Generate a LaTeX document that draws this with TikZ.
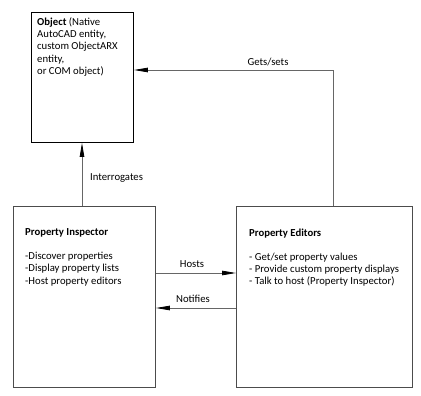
\documentclass[tikz,border=0pt]{standalone}
\usepackage{fontspec}
\setmainfont{Carlito}
\usetikzlibrary{arrows.meta}
\begin{document}
\begin{tikzpicture}[x=1pt,y=-1pt,
  box/.style={draw=black!70, line width=0.9pt, anchor=north west, inner sep=0pt},
  txt/.style={anchor=north west, inner sep=0pt, align=left, font=\fontsize{10.7}{12.4}\selectfont},
  lbl/.style={inner sep=0pt, font=\fontsize{10.7}{12}\selectfont},
  arr/.style={draw=black!60, line width=0.8pt, -{Triangle[length=14pt,width=4.5pt,color=black]}},
  ]
\useasboundingbox (0,0) rectangle (421,396);
\node[box, draw=black, minimum width=102pt, minimum height=130pt] (obj) at (31,12) {};
\node[box, minimum width=142pt, minimum height=181pt] (pi) at (13,206) {};
\node[box, minimum width=176pt, minimum height=181pt] (pe) at (236,206) {};

\node[txt] (objt) at (37,17) {\textbf{Object} (Native\\AutoCAD entity,\\custom ObjectARX\\entity,\\or COM object)};
\node[txt] (pit) at (25,228.5) {\textbf{Property Inspector}\\[11.5pt]-Discover properties\\-Display property lists\\-Host property editors};
\node[txt] (pet) at (249,228.5) {\textbf{Property Editors}\\[11.5pt]- Get/set property values\\- Provide custom property displays\\- Talk to host (Property Inspector)};

\draw[arr] ([xshift=69pt]pi.north west) -- ([xshift=69pt]pi.north west |- obj.south);
\draw[arr] ([xshift=97pt]pe.north west) |- ([yshift=-58pt]obj.north east);
\draw[arr] ([yshift=-67pt]pi.north east) -- ([yshift=-67pt]pi.north east -| pe.west);
\draw[arr] ([yshift=-102pt]pi.north east -| pe.west) -- ([yshift=-102pt]pi.north east);

\node[lbl] (lgs) at (268,62) {Gets/sets};
\node[lbl, anchor=west] (lint) at (90,178) {Interrogates};
\node[lbl] (lh) at (192,264) {Hosts};
\node[lbl] (ln) at (193,299) {Notifies};
\end{tikzpicture}
\end{document}
